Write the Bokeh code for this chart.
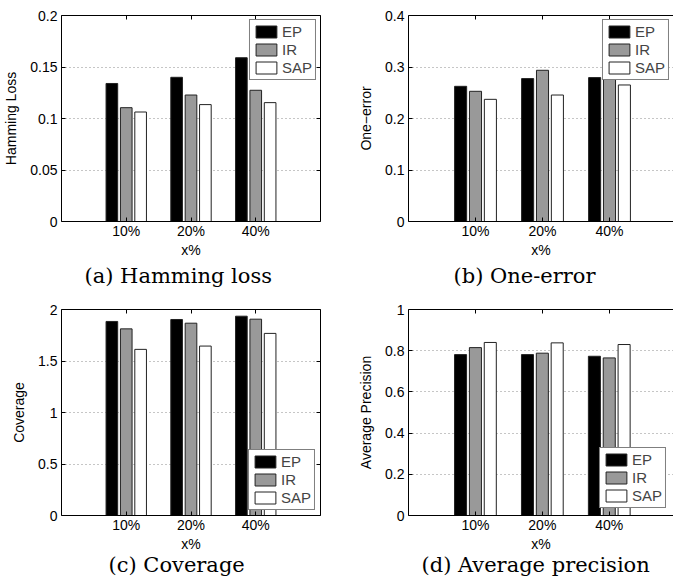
from bokeh.plotting import figure
from bokeh.models import (FixedTicker, CustomJSTickFormatter, LinearAxis, Range1d,
                          Legend, LegendItem, Title)
from bokeh.layouts import gridplot
from bokeh.embed import file_html
from bokeh.resources import INLINE

categories = ["10%", "20%", "40%"]
series = ["EP", "IR", "SAP"]

hamming_ep = [0.134, 0.140, 0.159]
hamming_ir = [0.1105, 0.1228, 0.1274]
hamming_sap = [0.1063, 0.1135, 0.1154]

oneerr_ep = [0.2625, 0.2775, 0.2794]
oneerr_ir = [0.2528, 0.2936, 0.300]
oneerr_sap = [0.2372, 0.2456, 0.2651]

coverage_ep = [1.884, 1.903, 1.935]
coverage_ir = [1.812, 1.867, 1.906]
coverage_sap = [1.613, 1.645, 1.768]

avgprec_ep = [0.781, 0.781, 0.773]
avgprec_ir = [0.815, 0.788, 0.765]
avgprec_sap = [0.840, 0.838, 0.830]

ticks_hamming = [0, 0.05, 0.1, 0.15, 0.2]
ticks_oneerr = [0, 0.1, 0.2, 0.3, 0.4]
ticks_coverage = [0, 0.5, 1, 1.5, 2]
ticks_avgprec = [0, 0.2, 0.4, 0.6, 0.8, 1]

FILLS = {"EP": "#000000", "IR": "#999999", "SAP": "#ffffff"}
OFFSETS = {"EP": -0.222, "IR": 0.0, "SAP": 0.222}
SANS = "Liberation Sans"
TICK_FS = "14px"


def make_panel(width, height, borders, xend, yticks, ylabel, data, caption,
               cap_offset, cap_standoff, legend_loc, legend_margin, right_axis):
    bl, br, bt, bb = borders
    p = figure(width=width, height=height, x_range=Range1d(0, xend),
               y_range=Range1d(yticks[0], yticks[-1]),
               min_border_left=bl, min_border_right=br, min_border_top=bt,
               min_border_bottom=bb, output_backend="svg", toolbar_location=None,
               outline_line_color=None)
    xpos = list(range(1, len(categories) + 1))
    items = []
    for s in series:
        xs = [x + OFFSETS[s] for x in xpos]
        r = p.vbar(x=xs, top=data[s], width=0.18, fill_color=FILLS[s],
                   line_color="#222222", line_width=1)
        items.append(LegendItem(label=s, renderers=[r]))

    p.xaxis.ticker = FixedTicker(ticks=xpos)
    p.xaxis.major_label_overrides = {x: c for x, c in zip(xpos, categories)}
    p.xaxis.axis_label = "x%"
    p.yaxis.ticker = FixedTicker(ticks=yticks)
    p.yaxis.formatter = CustomJSTickFormatter(code="return tick.toString();")
    p.yaxis.axis_label = ylabel
    for ax in (p.xaxis[0], p.yaxis[0]):
        ax.axis_line_color = "black"
        ax.major_tick_in = 4
        ax.major_tick_out = 0
        ax.major_tick_line_color = "black"
        ax.minor_tick_line_color = None
        ax.major_label_text_font = SANS
        ax.major_label_text_font_size = TICK_FS
        ax.major_label_text_color = "black"
        ax.axis_label_text_font = SANS
        ax.axis_label_text_font_size = TICK_FS
        ax.axis_label_text_font_style = "normal"
        ax.axis_label_text_color = "black"
    p.xaxis.major_label_standoff = 1
    p.xaxis.axis_label_standoff = 0
    p.yaxis.major_label_standoff = 4
    p.yaxis.axis_label_standoff = 8

    blank = CustomJSTickFormatter(code="return '';")
    top = LinearAxis(ticker=FixedTicker(ticks=xpos), formatter=blank,
                     major_tick_in=4, major_tick_out=0, major_label_standoff=0,
                     minor_tick_line_color=None, axis_line_color="black")
    p.add_layout(top, "above")
    if right_axis:
        rt = LinearAxis(ticker=FixedTicker(ticks=yticks), formatter=blank,
                        major_tick_in=4, major_tick_out=0, major_label_standoff=0,
                        minor_tick_line_color=None, axis_line_color="black")
        p.add_layout(rt, "right")

    p.xgrid.grid_line_color = None
    p.ygrid.grid_line_color = "#8c8c8c"
    p.ygrid.grid_line_dash = "1 3"
    p.ygrid.grid_line_width = 1

    legend = Legend(items=items, location=legend_loc, border_line_color="black",
                    border_line_width=1, background_fill_color="white",
                    background_fill_alpha=1, label_text_font=SANS,
                    label_text_font_size="15px", glyph_width=26, glyph_height=15,
                    label_height=17, label_standoff=3, padding=3, spacing=1,
                    margin=legend_margin)
    p.add_layout(legend)

    cap = Title(text=caption, align="left", offset=cap_offset, standoff=cap_standoff,
                text_font="DejaVu Serif", text_font_size="21px",
                text_font_style="normal", text_color="black")
    p.add_layout(cap, "below")
    return p


pa = make_panel(336, 290, (61, 16, 15, 69), 4, ticks_hamming, "Hamming Loss",
                {"EP": hamming_ep, "IR": hamming_ir, "SAP": hamming_sap},
                "(a) Hamming loss", 23, 2, "top_right", 4, True)
pb = make_panel(337, 290, (72, 0, 15, 69), 3.955, ticks_oneerr, "One\u2212error",
                {"EP": oneerr_ep, "IR": oneerr_ir, "SAP": oneerr_sap},
                "(b) One-error", 45, 2, "top_right", 4, False)
pc = make_panel(336, 293, (52, 15, 19, 67), 4, ticks_coverage, "Coverage",
                {"EP": coverage_ep, "IR": coverage_ir, "SAP": coverage_sap},
                "(c) Coverage", 47, -7, "bottom_right", 5, True)
pd = make_panel(337, 293, (71, 0, 19, 68), 3.96, ticks_avgprec, "Average Precision",
                {"EP": avgprec_ep, "IR": avgprec_ir, "SAP": avgprec_sap},
                "(d) Average precision", 13, -7, "bottom_right", 7, False)

grid = gridplot([[pa, pb], [pc, pd]], toolbar_location=None)

open("out.html", "w").write(file_html(grid, INLINE))
